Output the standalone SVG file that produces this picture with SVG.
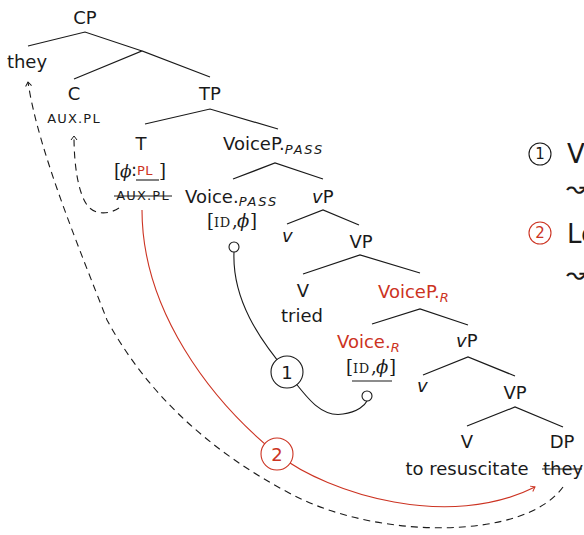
<svg xmlns="http://www.w3.org/2000/svg" width="584" height="535" viewBox="0 0 584 535">
<style>
text{font-family:"DejaVu Sans",sans-serif;font-size:18px;fill:#1a1a1a}
.m{text-anchor:middle}
.red{fill:#cc3322}
.sub{font-style:italic;font-size:13px;letter-spacing:1.8px}
.sc{font-size:13px;letter-spacing:1.2px}
.ser{font-family:"DejaVu Serif",serif;font-size:18px}
.scs{font-family:"DejaVu Serif",serif;font-size:13px;letter-spacing:0.5px}
.it{font-style:italic}
.br{stroke:#1a1a1a;stroke-width:1.2;fill:none}
.k{stroke:#1a1a1a;stroke-width:1.1;fill:none}
.d{stroke:#1a1a1a;stroke-width:1.1;fill:none;stroke-dasharray:7 5}
.r{stroke:#cc3322;stroke-width:1.1;fill:none}
.cw{fill:#fff;stroke:#1a1a1a;stroke-width:1.1}
.cr{fill:#fff;stroke:#cc3322;stroke-width:1.1}
.leg{font-size:26px}
.sq{font-size:26px}
</style>
<defs>
<marker id="ak" viewBox="-6 -5 8 10" markerWidth="8" markerHeight="10" refX="0" refY="0" orient="auto" markerUnits="userSpaceOnUse">
<path d="M-4,-3 L0,0 L-4,3" fill="none" stroke="#1a1a1a" stroke-width="1"/>
</marker>
<marker id="ar" viewBox="-6 -5 8 10" markerWidth="8" markerHeight="10" refX="0" refY="0" orient="auto" markerUnits="userSpaceOnUse">
<path d="M-4,-3 L0,0 L-4,3" fill="none" stroke="#cc3322" stroke-width="1"/>
</marker>
</defs>
<rect width="584" height="535" fill="#fff"/>
<g id="branches">
<path class="br" d="M28,46 L85,32 L142,51 M74,79 L142,51 L210,77"/>
<path class="br" d="M145,124 L210,109 L278,129"/>
<path class="br" d="M233,179 L275,163 L323,179"/>
<path class="br" d="M287,224 L323,210 L359,225"/>
<path class="br" d="M303,274 L360,255 L420,273"/>
<path class="br" d="M372,324 L420,309 L468,325"/>
<path class="br" d="M423,375 L468,357 L515,376"/>
<path class="br" d="M467,426 L515,407 L563,427"/>
</g>
<g id="connectors">
<path class="d" d="M563,487 C525,540 380,540 293,495 C206,450 145,390 107,320 C80,250 38,150 28,82" marker-end="url(#ak)"/>
<path class="d" d="M119,208 C110,214 95,216 87,205 C78,192 74,165 74,136" marker-end="url(#ak)"/>
<path class="r" d="M142,210 C142,310 210,400 277,454 C330,495 450,530 535,487" marker-end="url(#ar)"/>
<path class="k" d="M234,252 C232,300 260,340 287,372 C305,395 320,418 343,414 C358,412 365,405 367,401"/>
</g>
<g id="n-CP"><text class="m" x="85" y="24">CP</text></g>
<g id="n-they"><text class="m" x="27" y="68">they</text></g>
<g id="n-C"><text class="m" x="74" y="100">C</text><text class="m sc" x="74" y="123">AUX.PL</text></g>
<g id="n-TP"><text class="m" x="210" y="100">TP</text></g>
<g id="n-T">
<text class="m" x="141" y="150">T</text>
<text class="ser" x="114" y="177">[</text>
<text class="ser it" x="120" y="177" style="font-size:17px">ϕ</text>
<text x="131" y="176">:</text>
<text class="sc red" x="137" y="175" style="letter-spacing:0.5px">PL</text>
<line x1="136" y1="180" x2="159" y2="180" class="k"/>
<text class="ser" x="159" y="177">]</text>
<text class="m sc" x="143" y="200">AUX.PL</text>
<line x1="114" y1="196" x2="172" y2="196" class="k"/>
</g>
<g id="n-VoicePpass"><text x="223" y="150">VoiceP.<tspan class="sub" dy="4">PASS</tspan></text></g>
<g id="n-Voicepass">
<text x="185" y="203">Voice.<tspan class="sub" dy="3">PASS</tspan></text>
<text class="ser" x="207" y="227">[</text><text class="scs" x="214" y="227">ID</text><text class="ser" x="232" y="227">,</text><text class="ser it" x="237" y="227">ϕ</text><text class="ser" x="250" y="227">]</text>
<circle class="cw" cx="234" cy="247" r="5"/>
</g>
<g id="n-vP1"><text x="312" y="203"><tspan class="it">v</tspan>P</text></g>
<g id="n-v1"><text class="it" x="282" y="242">v</text></g>
<g id="n-VP1"><text class="m" x="361" y="248">VP</text></g>
<g id="n-V1"><text class="m" x="303" y="297">V</text><text class="m" x="302" y="322">tried</text></g>
<g id="n-VoicePR"><text class="red" x="378" y="298">VoiceP.<tspan class="sub" dy="4">R</tspan></text></g>
<g id="n-VoiceR">
<text class="red" x="337" y="348">Voice.<tspan class="sub" dy="4">R</tspan></text>
<text class="ser" x="346" y="373">[</text><text class="scs" x="353" y="373">ID</text><text class="ser" x="371" y="373">,</text><text class="ser it" x="376" y="373">ϕ</text><text class="ser" x="389" y="373">]</text>
<line x1="352" y1="381" x2="392" y2="381" class="k"/>
<circle class="cw" cx="367" cy="396" r="5"/>
</g>
<g id="n-vP2"><text x="456" y="347"><tspan class="it">v</tspan>P</text></g>
<g id="n-v2"><text class="it" x="417" y="392">v</text></g>
<g id="n-VP2"><text class="m" x="515" y="399">VP</text></g>
<g id="n-V2"><text class="m" x="467" y="448">V</text><text class="m" x="467" y="475">to resuscitate</text></g>
<g id="n-DP"><text class="m" x="562" y="448">DP</text><text x="543" y="475">they</text><line x1="542" y1="469" x2="582" y2="469" class="k"/></g>
<g id="step1"><circle class="cw" cx="287" cy="372" r="16"/><text class="m" x="287" y="379">1</text></g>
<g id="step2"><circle class="cr" cx="277" cy="454" r="16"/><text class="m red" x="277" y="461">2</text></g>
<g id="legend">
<circle class="cw" cx="540" cy="154" r="11"/><text class="m" x="540" y="159" style="font-size:15px">1</text>
<text class="leg" x="567" y="163">V</text>
<text class="sq" x="566" y="197">↝</text>
<circle class="cr" cx="540" cy="233" r="11"/><text class="m red" x="540" y="238" style="font-size:15px">2</text>
<text class="leg" x="567" y="243">Le</text>
<text class="sq" x="566" y="283">↝</text>
</g>
</svg>
